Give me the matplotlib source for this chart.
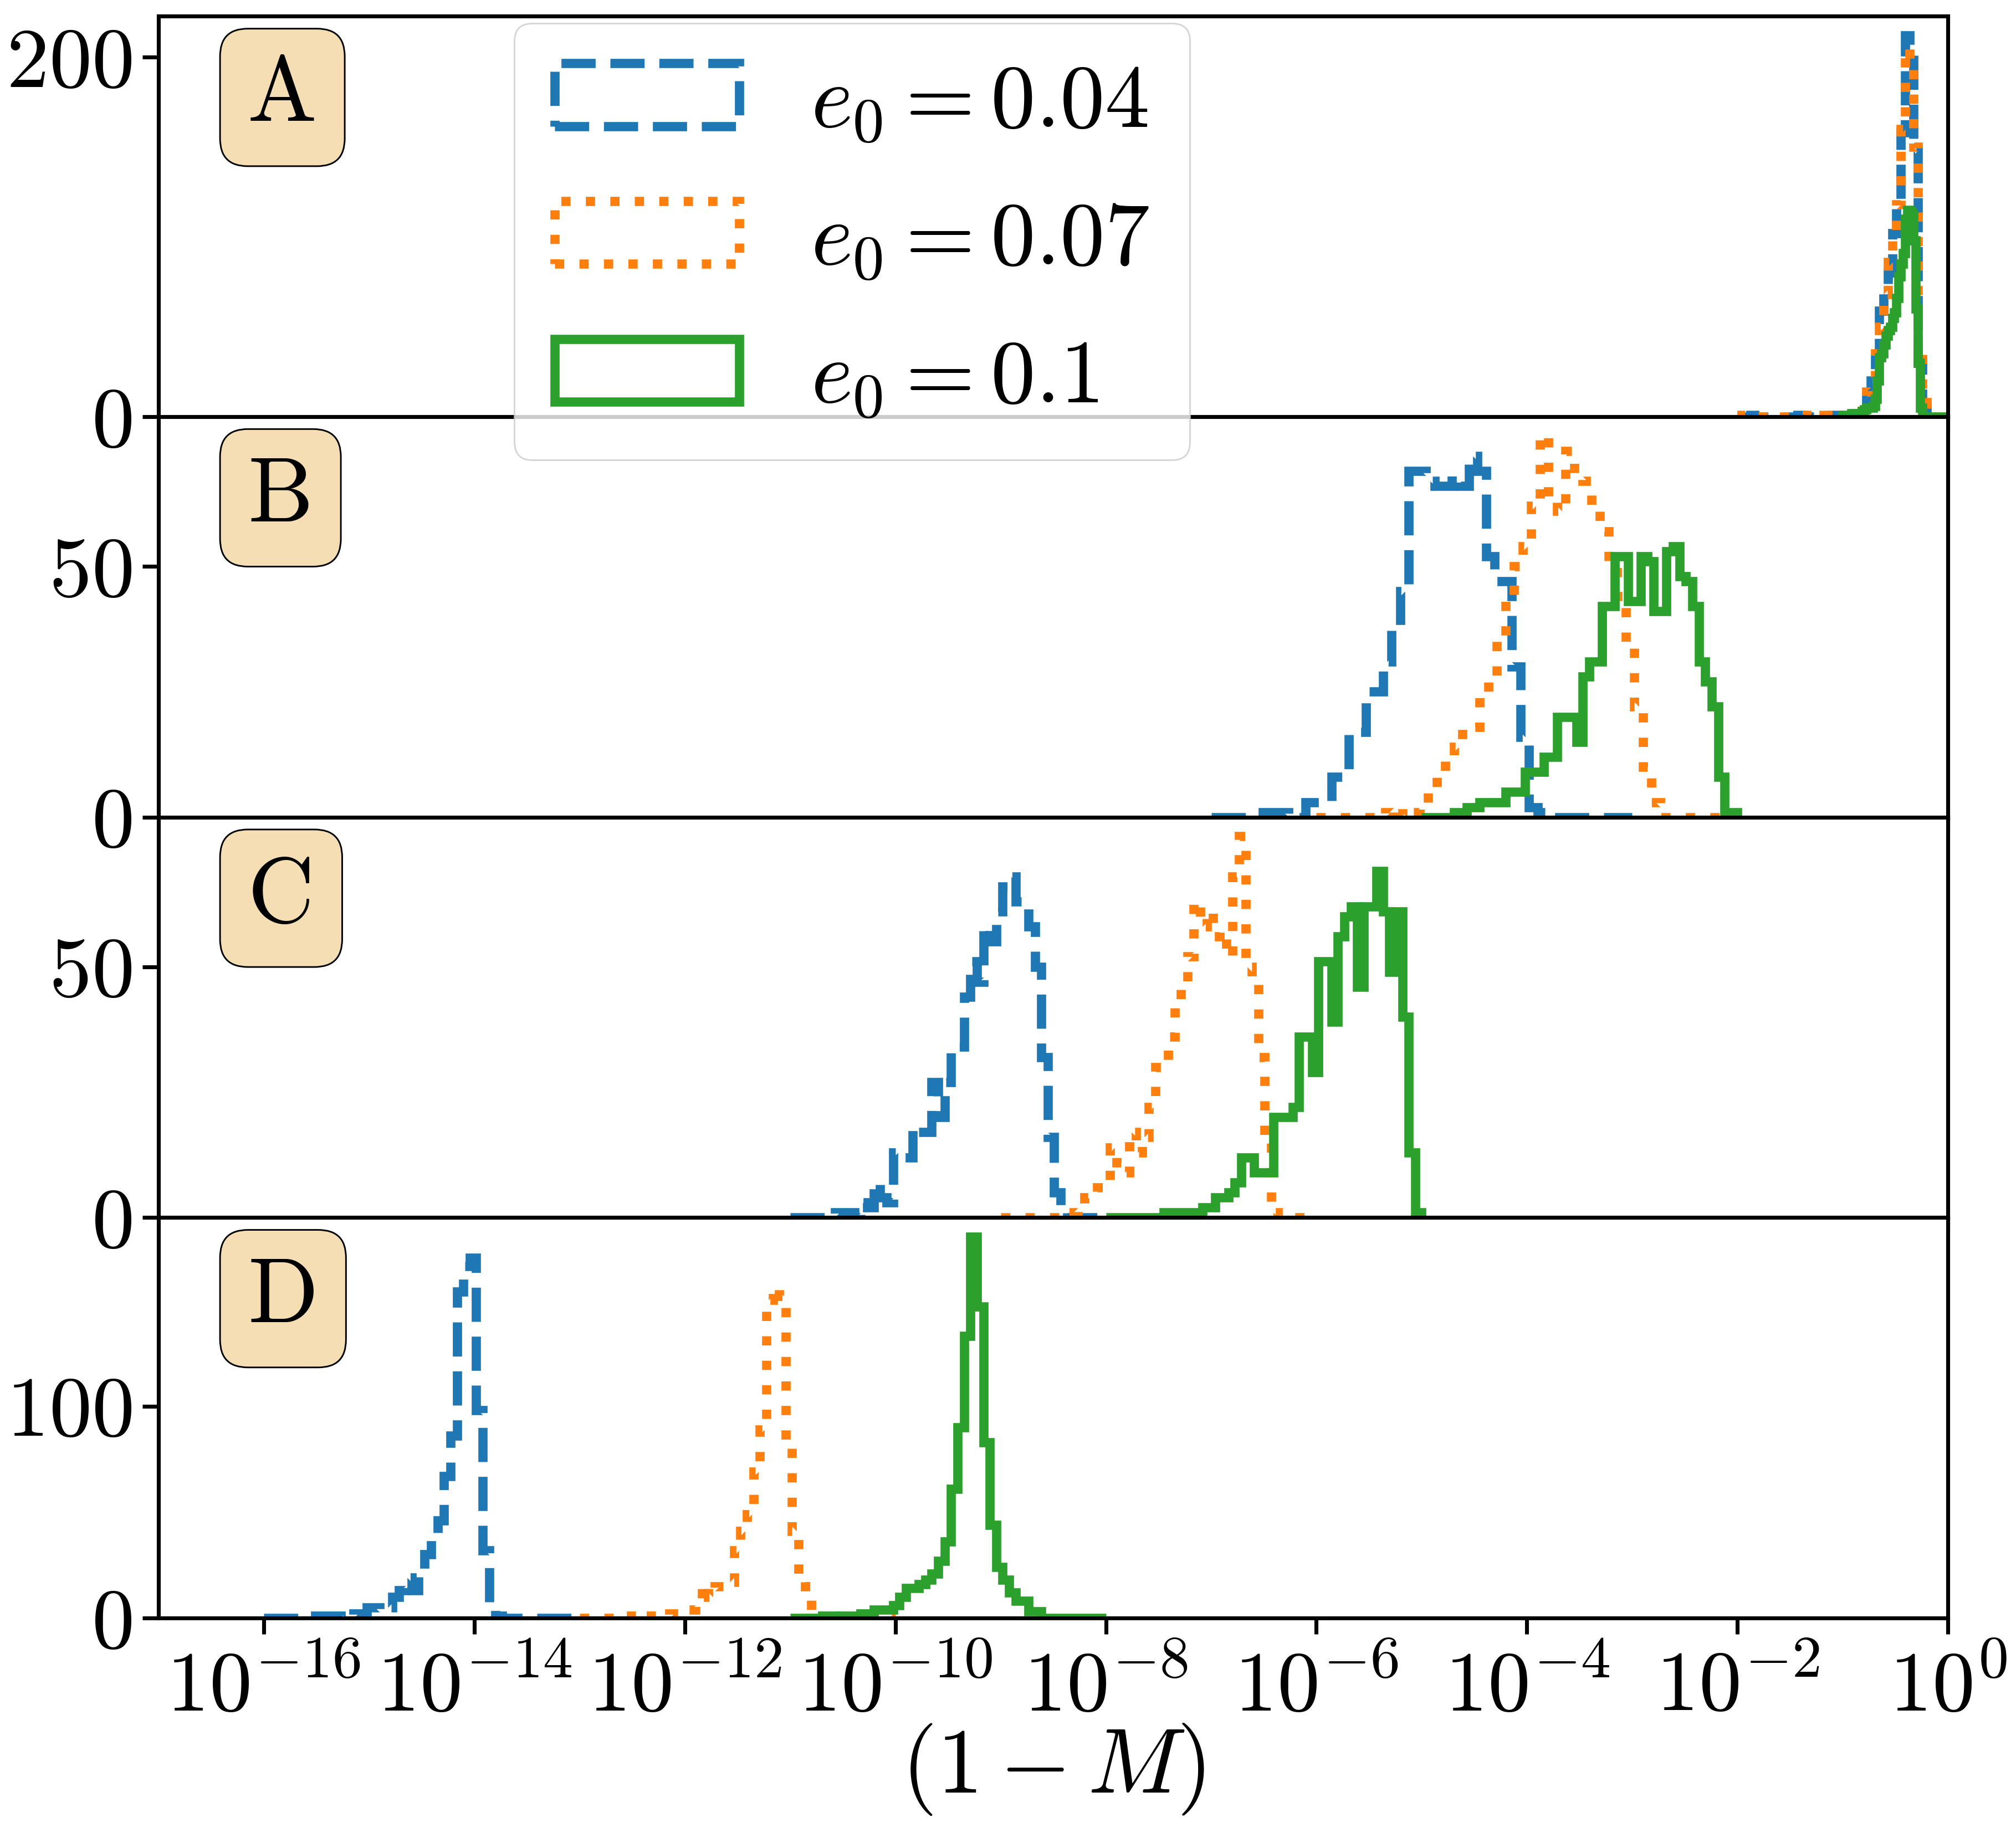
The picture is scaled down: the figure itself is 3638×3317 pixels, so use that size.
import numpy as np
import matplotlib
matplotlib.use('Agg')
import matplotlib.pyplot as plt
from matplotlib.ticker import MaxNLocator, NullLocator

plt.rcParams['font.family'] = ['cmr10']
plt.rcParams['mathtext.fontset'] = 'cm'
plt.rcParams['axes.formatter.use_mathtext'] = True
plt.rcParams['font.size'] = 20
plt.rcParams['xtick.labelsize'] = 18.5
plt.rcParams['ytick.labelsize'] = 18.5
plt.rcParams['ytick.major.pad'] = 2.2
plt.rcParams['axes.linewidth'] = 0.85
plt.rcParams['xtick.major.width'] = 0.85
plt.rcParams['ytick.major.width'] = 0.85

# legend labels, one per eccentricity
labels = [r'$e_0 = 0.04$', r'$e_0 = 0.07$', r'$e_0 = 0.1$']
colors = ['tab:blue', 'tab:orange', 'tab:green']
styles = ['--', ':', '-']
panels = ['A', 'B', 'C', 'D']

# log10 span of the 49 log-spaced bins (e0 = 0.04, 0.07, 0.1)
span_A = [(-2, 0), (-2, 0), (-1, 0)]
span_B = [(-7, -3), (-6, -2), (-5, -2)]
span_C = [(-11, -8), (-9, -6), (-8, -5)]
span_D = [(-16, -13), (-13, -10), (-11, -8)]

# counts per bin
A_004 = [0, 0, 0, 1, 0, 0, 0, 0, 0, 0,
         0, 0, 0, 0, 1, 0, 0, 0, 0, 0,
         0, 0, 1, 1, 0, 0, 1, 2, 3, 5,
         11, 20, 33, 59, 73, 80, 102, 116, 158, 212,
         205, 148, 30, 5, 0, 0, 0, 0, 0]
A_007 = [0, 1, 0, 0, 0, 0, 0, 0, 1, 0,
         0, 0, 0, 0, 0, 1, 0, 0, 0, 0,
         1, 0, 0, 0, 1, 0, 1, 3, 2, 8,
         14, 22, 35, 50, 68, 86, 98, 118, 160, 205,
         196, 150, 35, 8, 2, 0, 0, 0, 0]
A_010 = [1, 1, 1, 1, 2, 1, 2, 2, 2, 3,
         4, 5, 5, 5, 6, 10, 20, 33, 35, 40,
         45, 48, 50, 55, 58, 66, 78, 85, 91, 110,
         115, 114, 112, 98, 60, 30, 5, 0, 0, 0,
         0, 0, 0, 0, 0, 0, 0, 0, 0]

B_004 = [0, 0, 0, 0, 0, 0, 1, 1, 1, 0,
         0, 3, 3, 3, 8, 8, 17, 17, 25, 25,
         31, 38, 45, 69, 69, 67, 66, 66, 68, 66,
         72, 69, 52, 47, 47, 30, 16, 2, 1, 0,
         0, 0, 0, 0, 0, 0, 0, 0, 0]
B_007 = [0, 0, 0, 0, 0, 0, 0, 0, 1, 2,
         0, 1, 2, 5, 8, 12, 14, 18, 18, 25,
         27, 36, 44, 50, 54, 62, 76, 63, 61, 73,
         68, 67, 62, 57, 50, 44, 34, 22, 10, 3,
         0, 0, 0, 0, 0, 0, 0, 0, 0]
B_010 = [0, 0, 0, 0, 0, 1, 1, 2, 2, 3,
         3, 3, 3, 5, 5, 5, 9, 9, 9, 12,
         12, 20, 20, 20, 15, 28, 31, 31, 42, 42,
         52, 52, 43, 43, 52, 51, 41, 41, 53, 54,
         48, 47, 42, 31, 27, 22, 8, 1, 1]

C_004 = [0, 0, 0, 0, 0, 0, 0, 1, 1, 1,
         0, 3, 2, 7, 4, 3, 13, 12, 12, 18,
         17, 17, 27, 20, 27, 33, 34, 44, 51, 47,
         58, 55, 61, 66, 68, 63, 62, 58, 50, 32,
         16, 5, 2, 0, 0, 0, 0, 0, 0]
C_007 = [0, 0, 0, 0, 0, 0, 0, 0, 0, 0,
         1, 1, 2, 4, 4, 6, 7, 14, 11, 9,
         17, 13, 16, 22, 30, 30, 36, 42, 47, 52,
         63, 58, 61, 56, 57, 52, 68, 76, 50, 48,
         32, 15, 1, 0, 0, 0, 0, 0, 0]
C_010 = [0, 0, 0, 0, 0, 0, 0, 0, 0, 1,
         1, 1, 1, 1, 1, 2, 2, 4, 4, 5,
         7, 12, 12, 9, 9, 9, 20, 20, 20, 22,
         36, 36, 29, 51, 51, 39, 56, 60, 62, 46,
         62, 62, 69, 61, 49, 61, 40, 13, 1]

D_004 = [0, 0, 0, 0, 0, 0, 0, 0, 1, 1,
         1, 1, 0, 1, 2, 2, 5, 5, 4, 5,
         10, 13, 19, 13, 20, 30, 40, 46, 67, 86,
         154, 166, 170, 98, 32, 4, 1, 0, 0, 0,
         0, 0, 0, 0, 0, 0, 0, 0, 0]
D_007 = [0, 0, 0, 0, 0, 0, 0, 0, 1, 0,
         1, 1, 1, 1, 2, 2, 4, 4, 7, 16,
         10, 15, 15, 17, 32, 41, 49, 69, 89, 150,
         156, 152, 84, 41, 21, 15, 2, 0, 0, 0,
         0, 0, 0, 0, 0, 0, 0, 0, 0]
D_010 = [0, 0, 0, 0, 0, 1, 1, 0, 1, 1,
         1, 2, 2, 4, 4, 4, 6, 10, 14, 14,
         16, 18, 21, 27, 36, 61, 90, 133, 180, 147,
         83, 44, 24, 18, 12, 8, 8, 3, 3, 0,
         0, 0, 0, 0, 0, 0, 0, 0, 0]

spans = [span_A, span_B, span_C, span_D]
counts = [[A_004, A_007, A_010], [B_004, B_007, B_010],
          [C_004, C_007, C_010], [D_004, D_007, D_010]]

fig = plt.figure(figsize=(3638.4 / 600, 3317.4 / 600), dpi=600)
axes = fig.subplots(4, 1, sharex=True, gridspec_kw=dict(hspace=0))
fig.subplots_adjust(left=0.0785, right=0.9662, top=0.991, bottom=0.1197)

for ax, name, span, cnt in zip(axes, panels, spans, counts):
    for (lo, hi), c, col, ls, lab in zip(span, cnt, colors, styles, labels):
        edges = np.logspace(lo, hi, len(c) + 1)
        mids = np.sqrt(edges[:-1] * edges[1:])
        ax.hist(mids, bins=edges, weights=c, histtype='step', lw=2,
                ls=ls, color=col, label=lab)
    ax.yaxis.set_major_locator(MaxNLocator(nbins=2, steps=[1, 2, 2.5, 5, 10]))
    ax.text(0.05, 0.9, name, transform=ax.transAxes, va='top', ha='left',
            fontsize=20,
            bbox=dict(boxstyle='round', facecolor='wheat',
                      edgecolor='black', linewidth=0.35))

axes[-1].set_xscale('log')
axes[-1].set_xlim(1e-17, 1)
axes[-1].set_xticks([10.0 ** k for k in range(-16, 1, 2)])
axes[-1].xaxis.set_minor_locator(NullLocator())
axes[-1].set_xlabel(r'$(1-M)$', labelpad=-1.3)

h, l = axes[0].get_legend_handles_labels()
leg = fig.legend(h, l, loc='upper left', bbox_to_anchor=(0.2551, 0.9873),
                 borderaxespad=0, fontsize=19.4, borderpad=0.45,
                 labelspacing=0.64, handlelength=2.06)
leg.get_frame().set_linewidth(0.35)

fig.savefig('out.png', dpi=600)
